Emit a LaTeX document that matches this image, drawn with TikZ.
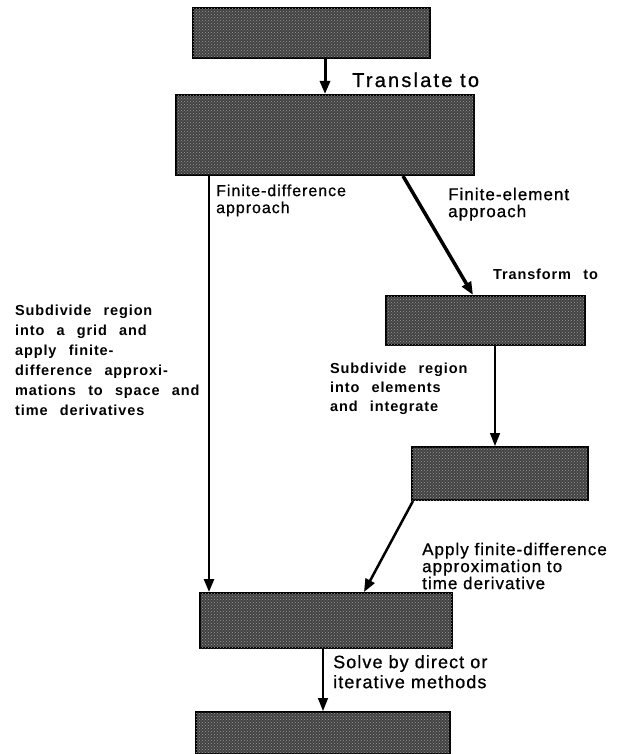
\documentclass[tikz,border=0pt]{standalone}
\usepackage{fontspec}
\setmainfont{Liberation Sans}
\newfontfamily\medfont[LetterSpace=6,FakeBold=0.8]{Liberation Sans}
\newfontfamily\boldfont[LetterSpace=6,WordSpace=2.5]{Liberation Sans Bold}
\usetikzlibrary{arrows.meta,patterns}
\tikzset{
  stage/.style={draw=black, line width=2pt, fill=black!74, inner sep=0pt,
    postaction={pattern=crosshatch dots, pattern color=black!40}},
  medlbl/.style={inner sep=0pt, align=left, font=\medfont\fontsize{16}{17}\selectfont},
  boldlbl/.style={inner sep=0pt, align=left, font=\boldfont\fontsize{14.5}{20}\selectfont},
  conn/.style={-{Triangle[length=13pt,width=10pt]}, line width=1.5pt}
}
\begin{document}
\begin{tikzpicture}[x=1pt, y=-1pt]
	\useasboundingbox (0,0) rectangle (619,754) ;
	% stages
	\node (b1)[stage, minimum width=237pt, minimum height=50pt] at (311.5, 33) {} ;
	\node (b2)[stage, minimum width=298pt, minimum height=80pt] at (325, 135) {} ;
	\node (b3)[stage, minimum width=199pt, minimum height=49pt] at (485.5, 320.5) {} ;
	\node (b4)[stage, minimum width=176pt, minimum height=53pt] at (500, 473.5) {} ;
	\node (b5)[stage, minimum width=252pt, minimum height=55pt] at (326, 620.5) {} ;
	\node (b6)[stage, minimum width=254pt, minimum height=42pt] at (323, 733) {} ;
	\coordinate (j34) at ([xshift=-5pt]b4.north) ;
	% labels
	\node (tr)[medlbl, anchor=base west, font=\medfont\addfontfeature{LetterSpace=11}\fontsize{20}{20}\selectfont] at (352, 87) {Translate to} ;
	\node (fd)[medlbl, anchor=north west] at (216, 184.3) {Finite-difference\\approach} ;
	\node (fe)[medlbl, anchor=north west, font=\medfont\fontsize{17}{17}\selectfont] at (448, 187.6) {Finite-element\\approach} ;
	\node (tf)[boldlbl, anchor=base west] at (493, 279) {Transform to} ;
	\node (grid)[boldlbl, anchor=north west] at (15, 304.4) {Subdivide region\\into a grid and\\apply finite-\\difference approxi-\\mations to space and\\time derivatives} ;
	\node (elem)[boldlbl, anchor=north west, font=\boldfont\fontsize{14.5}{19}\selectfont] at (330, 362.4) {Subdivide region\\into elements\\and integrate} ;
	\node (appr)[medlbl, anchor=north west, font=\medfont\fontsize{17}{17}\selectfont] at (422, 542.6) {Apply finite-difference\\approximation to\\time derivative} ;
	\node (slv)[medlbl, anchor=north west, font=\medfont\fontsize{18}{20}\selectfont] at (333, 654.9) {Solve by direct or\\iterative methods} ;
	% connectors
	\draw[conn, line width=3pt] (b1.south -| b2.north) -- (b2.north) ;
	\draw[conn, line width=2.5pt] ([xshift=34pt]b2.south west) -- ([xshift=34pt]b2.south west |- b5.north) ;
	\draw[conn, line width=3.5pt] ([xshift=-72pt]b2.south east) -- ([xshift=88pt]b3.north west) ;
	\draw[conn] (b3.south -| j34) -- (j34) ;
	\draw[conn, line width=2.5pt] ([xshift=2pt]b4.south west) -- ([xshift=-89pt]b5.north east) ;
	\draw[conn] (b5.south -| b6.north) -- (b6.north) ;
\end{tikzpicture}
\end{document}
